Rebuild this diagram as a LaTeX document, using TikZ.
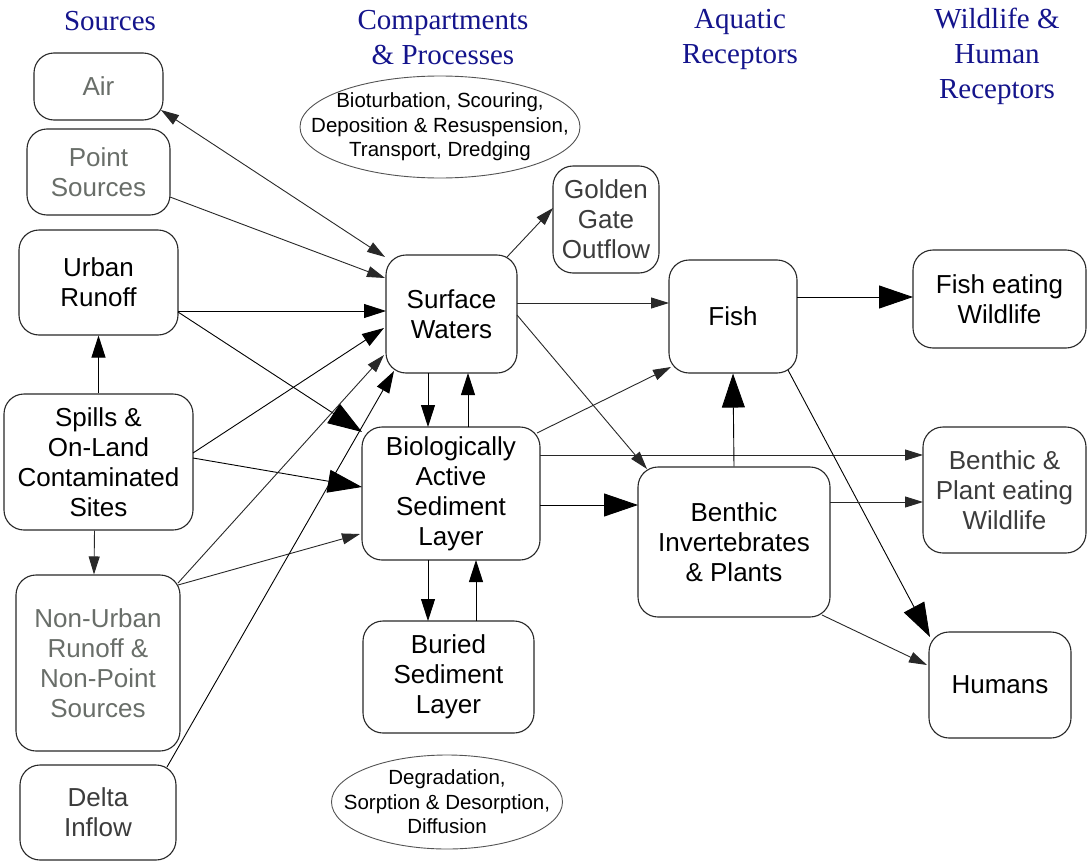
\documentclass[tikz,border=0pt]{standalone}
\usepackage{fontspec}
\setmainfont{Liberation Sans}
\newfontfamily\hdrfont{Liberation Serif}
\usetikzlibrary{arrows.meta,shapes.geometric,calc}
\definecolor{hdr}{RGB}{20,20,140}
\definecolor{lg}{RGB}{105,110,105}
\definecolor{dg}{RGB}{60,60,60}
\definecolor{ln}{RGB}{40,40,40}
\begin{document}
\begin{tikzpicture}[x=1pt,y=-1pt,
 box/.style={draw=ln, line width=1.1pt, rounded corners=20pt, align=center, inner sep=0pt, font=\fontsize{26}{30}\selectfont},
 proc/.style={align=center, inner sep=0pt, font=\fontsize{20.5}{24.5}\selectfont},
 oval/.style={draw=ln!80, line width=0.9pt},
 hd/.style={text=hdr, align=center, inner sep=0pt, font=\hdrfont\fontsize{29}{35}\selectfont},
 con/.style={draw=ln, line width=0.9pt},
 sa/.style={con, -{Triangle[length=18pt,width=11pt]}},
 ma/.style={con, draw=black, -{Triangle[length=22pt,width=14pt]}},
 la/.style={con, draw=black, -{Triangle[length=34pt,width=23pt]}},
 da/.style={con, {Triangle[length=18pt,width=11pt]}-{Triangle[length=18pt,width=11pt]}}
]
\useasboundingbox (0,0) rectangle (1087,862);
\fill[white] (0,0) rectangle (1087,862);

% headers
\node[hd] (h1) at (110,21) {Sources};
\node[hd] (h2) at (443,38) {Compartments\\\& Processes};
\node[hd] (h3) at (740,39) {Aquatic\\Receptors};
\node[hd] (h4) at (997,56) {Wildlife \&\\Human\\Receptors};

% sources
\node[box, text=lg, minimum width=129pt, minimum height=67pt] (air) at (98.5,86.5) {Air};
\node[box, text=lg, minimum width=143pt, minimum height=86pt] (pts) at (98.5,172) {Point\\Sources};
\node[box, minimum width=159pt, minimum height=105pt] (urb) at (98.5,282.5) {Urban\\Runoff};
\node[box, minimum width=189pt, minimum height=136pt] (spl) at (98.5,462) {Spills \&\\On-Land\\Contaminated\\Sites};
\node[box, text=lg, minimum width=164pt, minimum height=176pt] (nur) at (98,663) {Non-Urban\\Runoff \&\\Non-Point\\Sources};
\node[box, text=dg, minimum width=156pt, minimum height=95pt] (del) at (98,812.5) {Delta\\Inflow};

% compartments
\node[box, minimum width=131pt, minimum height=118pt] (sw) at (451.5,314) {Surface\\Waters};
\node[box, minimum width=178pt, minimum height=133pt] (basl) at (451,493.5) {Biologically\\Active\\Sediment\\Layer};
\node[box, minimum width=171pt, minimum height=112pt] (bur) at (448.5,677) {Buried\\Sediment\\Layer};
\node[box, text=dg, minimum width=106pt, minimum height=107pt] (gg) at (606,219.5) {Golden\\Gate\\Outflow};
\node[proc] (p1) at (440,127) {Bioturbation, Scouring,\\Deposition \& Resuspension,\\Transport, Dredging};
\draw[oval] (p1.center) ellipse [x radius=140, y radius=51];
\node[proc] (p2) at (447,802) {Degradation,\\Sorption \& Desorption,\\Diffusion};
\draw[oval] (p2.center) ellipse [x radius=115.5, y radius=47];

% aquatic receptors
\node[box, minimum width=128pt, minimum height=113pt] (fish) at (733,316.5) {Fish};
\node[box, minimum width=192pt, minimum height=150pt] (binv) at (734,542) {Benthic\\Invertebrates\\\& Plants};

% wildlife and humans
\node[box, minimum width=173pt, minimum height=98pt] (few) at (999.5,299) {Fish eating\\Wildlife};
\node[box, text=dg, minimum width=163pt, minimum height=126pt] (bpw) at (1004.5,490) {Benthic \&\\Plant eating\\Wildlife};
\node[box, minimum width=142pt, minimum height=106pt] (hum) at (1000,685) {Humans};

% connectors
\draw[da] ($(sw)+(-66.5,-57)$) -- ($(air)+(62.5,23.5)$);
\draw[sa] ($(pts)+(71.5,25)$) -- ($(sw)+(-66.5,-36)$);
\draw[ma] ($(urb)+(79.5,28.5)$) -- ($(sw)+(-65.5,-3)$);
\draw[la] ($(urb)+(79.5,29.5)$) -- ($(basl)+(-89,-61.5)$);
\draw[ma] ($(spl)+(94.5,-9)$) -- ($(sw)+(-67.5,14)$);
\draw[la] ($(spl)+(94.5,-4)$) -- ($(basl)+(-89,-6.5)$);
\draw[ma] (spl.north) -- (urb.south);
\draw[sa] ($(spl.south)+(-4,0)$) -- ($(nur.north)+(-4,0)$);
\draw[sa] ($(nur)+(80,-80)$) -- ($(sw)+(-67.5,41)$);
\draw[sa] ($(nur)+(80,-78)$) -- ($(basl)+(-91,40.5)$);
\draw[ma] ($(del)+(69,-45.5)$) -- ($(sw)+(-57.5,57)$);
\draw[sa] ($(sw)+(55.5,-57)$) -- ($(gg)+(-53,-11.5)$);
\draw[sa] ($(sw)+(65.5,-11)$) -- ($(fish)+(-64,-13.5)$);
\draw[sa] ($(sw)+(65.5,1)$) -- ($(binv)+(-87,-73)$);
\draw[ma] ($(sw)+(-23.5,59)$) -- ($(basl)+(-23,-66.5)$);
\draw[ma] ($(basl)+(17,-66.5)$) -- ($(sw)+(16.5,59)$);
\draw[sa] ($(basl)+(86,-60.5)$) -- ($(fish)+(-62,50.5)$);
\draw[sa] ($(basl)+(89,-38.5)$) -- ($(bpw)+(-81.5,-35)$);
\draw[la] ($(basl)+(89,11.5)$) -- ($(binv)+(-96,-37)$);
\draw[ma] ($(basl)+(-23,66.5)$) -- ($(bur)+(-20.5,-56)$);
\draw[ma] ($(bur)+(27.5,-56)$) -- ($(basl)+(25,66.5)$);
\draw[la] ($(fish)+(64,-19.5)$) -- ($(few)+(-86.5,-2)$);
\draw[la] (binv.north) -- (fish.south);
\draw[la] ($(fish)+(55,53.5)$) -- ($(hum)+(-70,-48)$);
\draw[sa] ($(binv)+(96,-40)$) -- ($(bpw)+(-81.5,12)$);
\draw[sa] ($(binv)+(88,73)$) -- ($(hum)+(-73,-20)$);
\end{tikzpicture}
\end{document}
